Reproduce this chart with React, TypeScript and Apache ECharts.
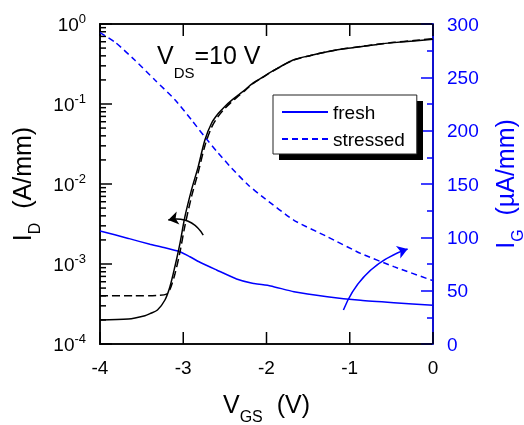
import React, { useEffect, useRef } from 'react';
import * as echarts from 'echarts';

// V_GS samples and drain currents I_D (A/mm), left log axis
const vgsFreshID = [-4, -3.66, -3.46, -3.40, -3.31, -3.22, -3.16, -3.10, -3.04, -2.98, -2.90, -2.82, -2.74, -2.66, -2.58, -2.50, -2.42, -2.34, -2.25, -2.17, -2.07, -1.98, -1.87, -1.68, -1.47, -1.27, -1.07, -0.87, -0.67, -0.47, -0.23, 0];
const idFresh = [2.0e-4, 2.05e-4, 2.26e-4, 2.4e-4, 2.66e-4, 3.55e-4, 5.2e-4, 9.3e-4, 1.8e-3, 3.9e-3, 8.5e-3, 0.0165, 0.0355, 0.0575, 0.0759, 0.0933, 0.111, 0.129, 0.153, 0.180, 0.209, 0.240, 0.279, 0.355, 0.405, 0.45, 0.49, 0.52, 0.555, 0.585, 0.615, 0.645];

const vgsStressID = [-4, -3.6, -3.3, -3.2, -3.16, -3.10, -3.04, -2.98, -2.90, -2.82, -2.74, -2.66, -2.58, -2.50, -2.42, -2.34, -2.25, -2.17, -2.07, -1.98, -1.87, -1.68, -1.47, -1.27, -1.07, -0.87, -0.67, -0.47, -0.23, 0];
const idStress = [4.0e-4, 4.0e-4, 4.06e-4, 4.2e-4, 4.8e-4, 7.5e-4, 1.4e-3, 3.0e-3, 7.0e-3, 0.014, 0.030, 0.051, 0.070, 0.088, 0.106, 0.125, 0.150, 0.178, 0.207, 0.238, 0.278, 0.352, 0.403, 0.45, 0.49, 0.522, 0.558, 0.59, 0.622, 0.655];

// Gate currents I_G (µA/mm), right linear axis
const vgsFreshIG = [-4, -3.66, -3.40, -3.26, -3.04, -2.92, -2.80, -2.60, -2.36, -2.17, -1.95, -1.67, -1.27, -0.87, -0.47, 0];
const igFresh = [106, 99, 93.5, 91, 86.5, 81.8, 76.6, 69.4, 61, 57, 54.4, 49, 44.4, 41, 38.7, 36.3];

const vgsStressIG = [-4, -3.82, -3.58, -3.34, -3.10, -2.90, -2.74, -2.58, -2.42, -2.22, -2.03, -1.67, -1.27, -0.87, -0.47, 0];
const igStress = [292, 283, 266, 247.5, 229, 210, 194, 179, 165, 149, 137, 116, 100.6, 85, 72.5, 59.4];

// annotation arrows (data coordinates)
const arrowID = [[-2.76, 2.3e-3], [-3.18, 3.55e-3]];
const arrowIG = [[-1.076, 31.9], [-0.305, 89]];

// tick positions of the black axes
const xTicks = [-4, -3, -2, -1, 0];
const yDecades = [1e-4, 1e-3, 1e-2, 1e-1, 1];
const minorMult = [2, 3, 4, 5, 6, 7, 8, 9];
const xMin = -4;
const xMax = 0;
const yMin = 1e-4;
const yMax = 1;

const FONT = "'Liberation Sans', Arial, Helvetica, sans-serif";
const BLUE = '#0000ff';
const BLACK = '#000000';

const GRID = { left: 100, right: 91, top: 24, bottom: 81 };
const W = 524;
const H = 425;

const zip = (xs: number[], ys: number[]) => xs.map((x, i) => [x, ys[i]]);

const titleRich = (color: string) => ({
  v: { fontSize: 25, color, fontFamily: FONT },
  s: { fontSize: 16, color, fontFamily: FONT, padding: [24, 0, 0, 0] },
});

export default function App() {
  const ref = useRef<HTMLDivElement>(null);
  useEffect(() => {
    const chart = echarts.init(ref.current!, null, { renderer: 'svg' });

    const lineCommon = { type: 'line', showSymbol: false, symbol: 'none', silent: true };

    const baseGraphic: any[] = [
      {
        id: 'legendShadow',
        type: 'rect',
        left: 279,
        top: 101,
        z: 3,
        shape: { width: 144, height: 59 },
        style: { fill: '#000' },
      },
      {
        id: 'vds',
        type: 'text',
        left: 157,
        top: 42,
        z: 10,
        style: {
          text: '{a|V}{b|DS}{a|=10 V}',
          rich: {
            a: { fontSize: 25, fill: '#000', fontFamily: FONT },
            b: { fontSize: 15, fill: '#000', fontFamily: FONT, padding: [36, 0, 0, 0] },
          },
        },
      },
    ];

    const option: any = {
      animation: false,
      textStyle: { fontFamily: FONT },
      grid: {
        ...GRID, containLabel: false, outerBoundsMode: 'none',
        show: true, borderColor: BLACK, borderWidth: 1.5, backgroundColor: 'transparent', z: 0,
      },
      legend: {
        data: ['fresh', 'stressed'],
        orient: 'vertical',
        left: 273,
        top: 95,
        itemWidth: 46,
        itemHeight: 14,
        itemGap: 7,
        padding: [7, 12, 5, 8],
        backgroundColor: '#fff',
        borderColor: '#222',
        borderWidth: 1,
        borderRadius: 0,
        selectedMode: false,
        itemStyle: { color: 'rgba(0,0,0,0)', borderColor: 'rgba(0,0,0,0)', borderWidth: 0 },
        textStyle: { fontSize: 19, color: '#000', lineHeight: 20, fontFamily: FONT },
        z: 4,
      },
      xAxis: [
        {
          type: 'value', min: xMin, max: xMax, interval: 1, position: 'bottom',
          axisLine: { show: false, onZero: false },
          axisTick: { show: false },
          axisLabel: { color: '#000', fontSize: 19, margin: 14, fontFamily: FONT },
          splitLine: { show: false },
          name: '{v|V}{s|GS}{v|  (V)}',
          nameLocation: 'middle',
          nameGap: 40,
          nameTextStyle: { rich: titleRich('#000') },
        },
        {
          type: 'value', min: xMin, max: xMax, interval: 1, position: 'top',
          axisLine: { show: false, onZero: false },
          axisTick: { show: false },
          axisLabel: { show: false },
          splitLine: { show: false },
        },
      ],
      yAxis: [
        {
          type: 'log', logBase: 10, min: yMin, max: yMax, position: 'left',
          axisLine: { show: false, onZero: false },
          axisTick: { show: false },
          axisLabel: {
            margin: 14,
            formatter: (v: number) => `{b|10}{s|${Math.round(Math.log10(v))}}`,
            rich: {
              b: { fontSize: 19, color: '#000', fontFamily: FONT },
              s: { fontSize: 13, color: '#000', fontFamily: FONT, padding: [0, 0, 12, 0] },
            },
          },
          splitLine: { show: false },
          name: '{v|I}{s|D}{v|  (A/mm)}',
          nameLocation: 'middle',
          nameRotate: 90,
          nameGap: 56,
          nameTextStyle: { rich: titleRich('#000') },
        },
        {
          type: 'value', min: 0, max: 300, interval: 50, position: 'right',
          axisLine: { show: true, onZero: false, lineStyle: { color: BLUE, width: 1.5 } },
          axisTick: { show: true, inside: true, length: 12, lineStyle: { color: BLUE, width: 1.5 } },
          minorTick: { show: true, splitNumber: 2, length: 6, lineStyle: { color: BLUE, width: 1.5 } },
          axisLabel: { color: BLUE, fontSize: 19, margin: 14, fontFamily: FONT },
          splitLine: { show: false },
          name: '{v|I}{s|G}{v|  (µA/mm)}',
          nameLocation: 'middle',
          nameRotate: 90,
          nameGap: 52,
          nameTextStyle: { rich: titleRich(BLUE) },
          z: 2,
        },
      ],
      graphic: baseGraphic,
      series: [
        {
          ...lineCommon, name: 'fresh', xAxisIndex: 0, yAxisIndex: 1, smooth: 0.2,
          data: zip(vgsFreshIG, igFresh),
          lineStyle: { color: BLUE, width: 1.5 }, itemStyle: { color: BLUE },
        },
        {
          ...lineCommon, name: 'stressed', xAxisIndex: 0, yAxisIndex: 1, smooth: 0.2,
          data: zip(vgsStressIG, igStress),
          lineStyle: { color: BLUE, width: 1.5, type: [6, 4] }, itemStyle: { color: BLUE },
        },
        {
          ...lineCommon, name: 'I_D fresh', xAxisIndex: 0, yAxisIndex: 0, smooth: 0.3,
          data: zip(vgsFreshID, idFresh),
          lineStyle: { color: '#000', width: 1.5 }, itemStyle: { color: '#000' },
        },
        {
          ...lineCommon, name: 'I_D stressed', xAxisIndex: 0, yAxisIndex: 0, smooth: 0.3,
          data: zip(vgsStressID, idStress),
          lineStyle: { color: '#000', width: 1.5, type: [8, 4] }, itemStyle: { color: '#000' },
        },
        {
          name: 'arrow I_D', type: 'lines', coordinateSystem: 'cartesian2d', xAxisIndex: 0, yAxisIndex: 0,
          symbol: ['none', 'arrow'], symbolSize: 10, silent: true, z: 5,
          lineStyle: { color: '#000', width: 1.5, curveness: -0.35, opacity: 1 },
          data: [{ coords: arrowID }],
        },
        {
          name: 'arrow I_G', type: 'lines', coordinateSystem: 'cartesian2d', xAxisIndex: 0, yAxisIndex: 1,
          symbol: ['none', 'arrow'], symbolSize: 10, silent: true, z: 5,
          lineStyle: { color: BLUE, width: 1.5, curveness: 0.23, opacity: 1 },
          data: [{ coords: arrowIG }],
        },
      ],
    };
    chart.setOption(option);

    // black ticks as thin filled rects placed through the chart's scales
    const gx0 = GRID.left;
    const gx1 = W - GRID.right;
    const gy0 = GRID.top;
    const gy1 = H - GRID.bottom;
    const px = (x: number, y: number): number[] => {
      let p: any = null;
      try {
        p = chart.convertToPixel({ xAxisIndex: 0, yAxisIndex: 0 }, [x, y]);
      } catch (e) {
        p = null;
      }
      if (!p || !isFinite(p[0]) || !isFinite(p[1])) {
        const fx = (x - xMin) / (xMax - xMin);
        const fy = (Math.log10(y) - Math.log10(yMin)) / (Math.log10(yMax) - Math.log10(yMin));
        p = [gx0 + fx * (gx1 - gx0), gy1 - fy * (gy1 - gy0)];
      }
      return p;
    };
    const bar = (id: string, x: number, y: number, width: number, height: number) => ({
      id, type: 'rect', z: 3, silent: true, shape: { x, y, width, height }, style: { fill: BLACK },
    });
    const tl = px(xMin, yMax);
    const br = px(xMax, yMin);
    const t = 1.5;
    const els: any[] = [
      bar('fL', tl[0] - t / 2, tl[1] - t / 2, t, br[1] - tl[1] + t),
      bar('fT', tl[0] - t / 2, tl[1] - t / 2, br[0] - tl[0], t),
      bar('fB', tl[0] - t / 2, br[1] - t / 2, br[0] - tl[0], t),
    ];
    yDecades.forEach((d, i) => {
      const p = px(xMin, d);
      els.push(bar('yM' + i, p[0], p[1] - t / 2, 12, t));
    });
    yDecades.slice(0, 4).forEach((d, i) => minorMult.forEach((m, j) => {
      const p = px(xMin, m * d);
      els.push(bar('ym' + i + '_' + j, p[0], p[1] - t / 2, 6, t));
    }));
    xTicks.forEach((x, i) => {
      const pb = px(x, yMin);
      const pt = px(x, yMax);
      els.push(bar('xb' + i, pb[0] - t / 2, pb[1] - 12, t, 12));
      els.push(bar('xt' + i, pt[0] - t / 2, pt[1], t, 12));
    });
    chart.setOption({ graphic: [...baseGraphic, ...els] });

    return () => chart.dispose();
  }, []);
  return <div ref={ref} style={{ position: 'fixed', left: 0, top: 0, width: 524, height: 425 }} />;
}
